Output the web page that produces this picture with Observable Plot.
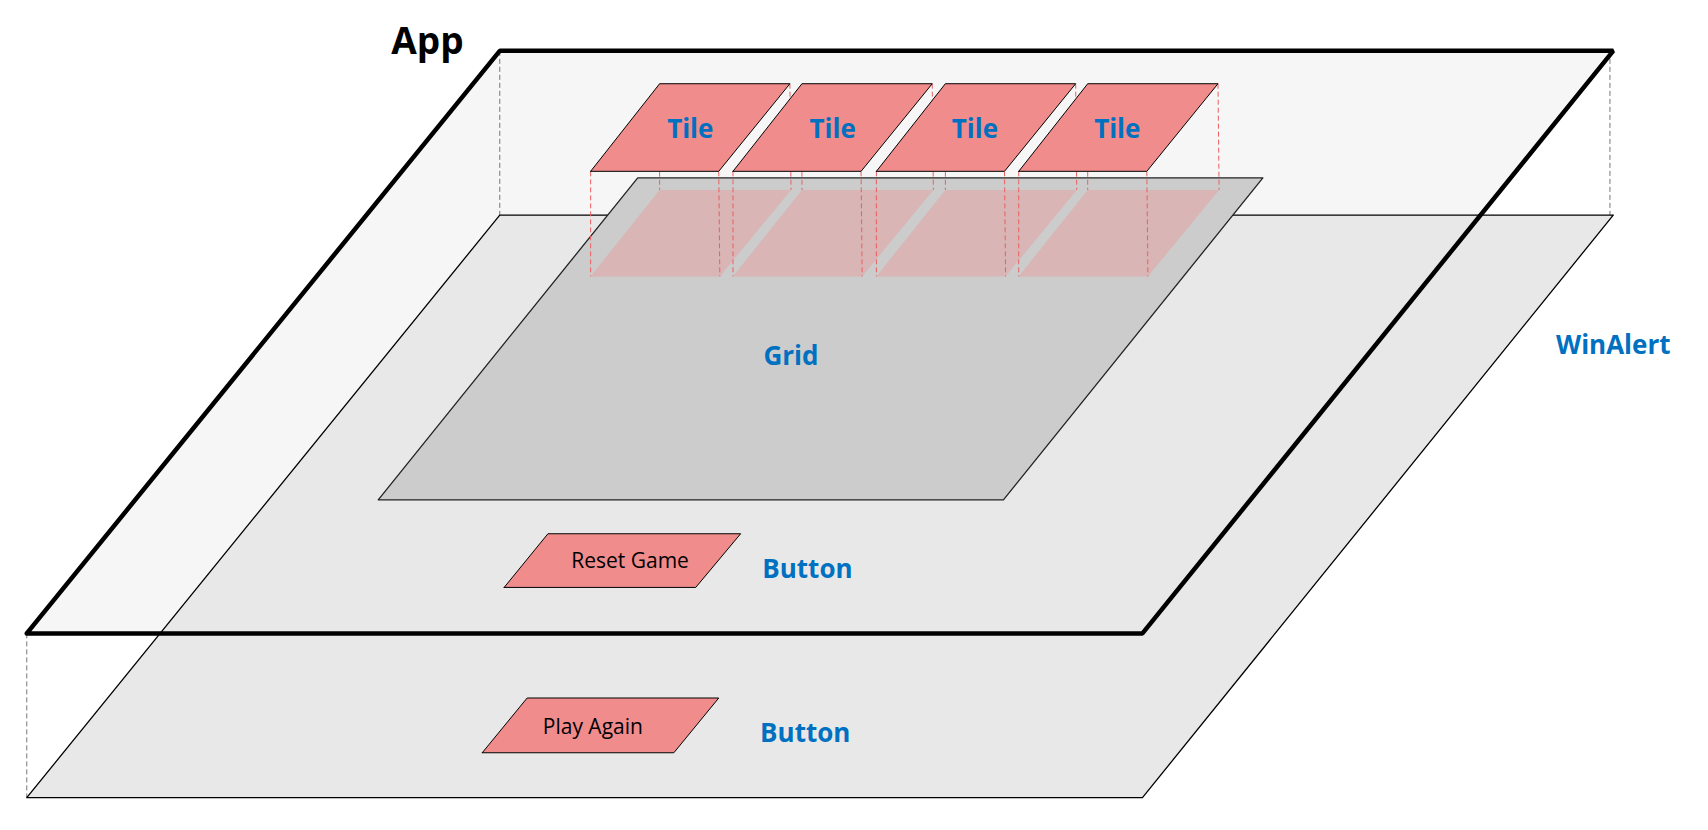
<!DOCTYPE html>
<html><head><meta charset="utf-8">
<script src="https://cdn.jsdelivr.net/npm/d3@7"></script>
<script src="https://cdn.jsdelivr.net/npm/@observablehq/plot@0.6"></script>
<style>body{margin:0;background:#fff}</style>
</head><body><div id="c"></div>
<script>
const appFace = [[24,578],[1043,578],[1473,46],[456,46]];
const winFace = [[24,728],[1043,728],[1473,196],[456,196]];
const gridFace = [[345,456],[916,456],[1153,162],[582,162]];
const tileOffsets = [0,130,261,391];
const tileShape = [[539,156],[656,156],[721,76],[602,76]];
const shadowShape = [[539,252],[657,252],[722,173],[602,173]];
const resetBtn = [[460,536],[635,536],[676,487],[500,487]];
const playBtn = [[440,687],[615,687],[656,637],[481,637]];
const greyDashes = [[24,578,24,728],[1043,578,1043,728],[456,46,456,196],[1470,46,1470,196]];
const boldLabels = [
 {x:390,y:38,t:"App",c:"#000",s:37},
 {x:630,y:118,t:"Tile",c:"#0070c0",s:26},{x:760,y:118,t:"Tile",c:"#0070c0",s:26},
 {x:890,y:118,t:"Tile",c:"#0070c0",s:26},{x:1020,y:118,t:"Tile",c:"#0070c0",s:26},
 {x:722,y:325,t:"Grid",c:"#0070c0",s:26},
 {x:1473,y:315,t:"WinAlert",c:"#0070c0",s:26},
 {x:737,y:520,t:"Button",c:"#0070c0",s:26},
 {x:735,y:670,t:"Button",c:"#0070c0",s:26}
];
const plainLabels = [
 {x:575,y:512,t:"Reset Game",c:"#000",s:21},
 {x:541,y:664,t:"Play Again",c:"#000",s:21}
];
const close = (pts,id)=>[...pts,pts[0]].map(([x,y])=>({x,y,id}));
const shift = (pts,dx)=>pts.map(([x,y])=>[x+dx,y]);
const tiles = tileOffsets.flatMap((d,i)=>close(shift(tileShape,d),i));
const shadows = tileOffsets.flatMap((d,i)=>close(shift(shadowShape,d),i));
const redDashes = tileOffsets.flatMap(d=>tileShape.map(([x,y],k)=>({x1:x+d,y1:y,x2:shadowShape[k][0]+d,y2:shadowShape[k][1]})));
const gd = greyDashes.map(([x1,y1,x2,y2])=>({x1,y1,x2,y2}));
const poly=(pts,o)=>Plot.line(close(pts,0),{x:"x",y:"y",...o});
const plot = Plot.plot({
 width:1708,height:830,margin:0,
 x:{domain:[0,1560],range:[0,1708],axis:null},
 y:{domain:[0,758],range:[0,830],axis:null},
 style:{fontFamily:"Open Sans, Noto Sans, sans-serif"},
 marks:[
  poly(appFace,{fill:"#f6f6f6",stroke:"none"}),
  Plot.link(gd,{x1:"x1",y1:"y1",x2:"x2",y2:"y2",stroke:"#777",strokeDasharray:"5,3",strokeWidth:1}),
  poly(winFace,{fill:"#e8e8e8",stroke:"#000",strokeWidth:1.3}),
  poly(gridFace,{fill:"#cccccc",stroke:"#222",strokeWidth:1.3}),
  Plot.line(shadows,{x:"x",y:"y",z:"id",fill:"#e89a9a",fillOpacity:0.45,stroke:"none"}),
  Plot.link(redDashes,{x1:"x1",y1:"y1",x2:"x2",y2:"y2",stroke:"#e86060",strokeDasharray:"5,3",strokeWidth:1}),
  poly(appFace,{fill:"none",stroke:"#000",strokeWidth:4.5,strokeLinejoin:"miter"}),
  Plot.line(tiles,{x:"x",y:"y",z:"id",fill:"#f08c8c",stroke:"#000",strokeWidth:1}),
  poly(resetBtn,{fill:"#f08c8c",stroke:"#000",strokeWidth:1}),
  poly(playBtn,{fill:"#f08c8c",stroke:"#000",strokeWidth:1}),
  ...boldLabels.map(d=>Plot.text([d],{x:"x",y:"y",text:"t",fill:d.c,fontSize:d.s,fontWeight:"bold"})),
  ...plainLabels.map(d=>Plot.text([d],{x:"x",y:"y",text:"t",fill:d.c,fontSize:d.s}))
 ]
});
document.getElementById("c").append(plot);
</script></body></html>
